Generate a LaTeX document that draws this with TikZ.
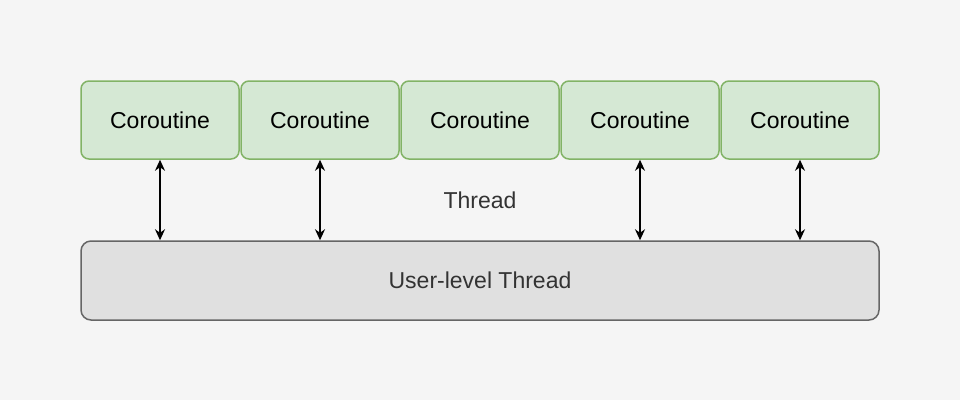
\documentclass[tikz,border=0pt]{standalone}
\usepackage{fontspec}
\setmainfont{Liberation Sans}
\usetikzlibrary{arrows.meta,positioning}
\definecolor{bgcol}{HTML}{F5F5F5}
\definecolor{cofill}{HTML}{D5E8D4}
\definecolor{codraw}{HTML}{82B366}
\definecolor{ulfill}{HTML}{E0E0E0}
\definecolor{uldraw}{HTML}{666666}
\definecolor{txt}{HTML}{333333}
\begin{document}
\begin{tikzpicture}[x=1pt,y=-1pt,
                    coro/.style={draw=codraw,fill=cofill,rounded corners=8pt,line width=1.5pt,
                      minimum width=158pt,minimum height=78pt,inner sep=0pt,font=\fontsize{23}{27}\selectfont},
                    ult/.style={draw=uldraw,fill=ulfill,rounded corners=10pt,line width=1.5pt,
                      minimum width=798pt,minimum height=79pt,inner sep=0pt,text=txt,font=\fontsize{23}{27}\selectfont},
                    link/.style={{Stealth[length=11pt,width=10pt]}-{Stealth[length=11pt,width=10pt]},line width=1.6pt}]
                    \fill[bgcol] (0,0) rectangle (960,400);
                    \useasboundingbox (0,0) rectangle (960,400);
                    % top row
                    \foreach \i in {1,...,5}
                        \node[coro] (C\i) at ({160*\i},120) {Coroutine};
                    \node[ult] (U) at (480,280.5) {User-level Thread};
                    \node[text=txt,font=\fontsize{23}{27}\selectfont] (T) at (480,200) {Thread};
                    % links
                    \foreach \i in {1,2,4,5}
                        \draw[link] (C\i.south) -- (C\i.south |- U.north);
\end{tikzpicture}
\end{document}
